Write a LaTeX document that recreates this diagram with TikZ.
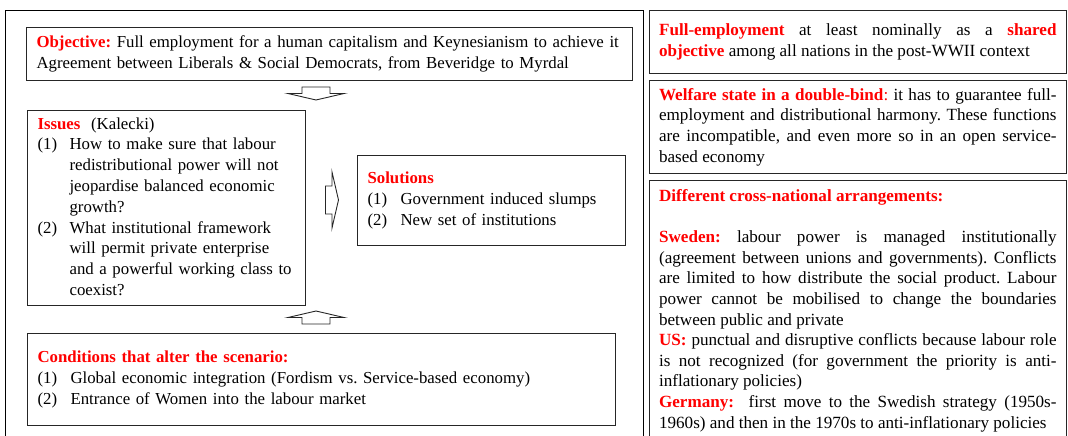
\documentclass[tikz,border=0pt]{standalone}
\usepackage{fontspec}
\setmainfont{Liberation Serif}
\setlength{\parindent}{0pt}
\frenchspacing
\newcommand{\redhd}[1]{\textcolor{red}{\textbf{#1}}}

\begin{document}
\begin{tikzpicture}[
        x=1pt,y=-1pt,
        box/.style={draw=black!85,line width=1.1pt,anchor=north west,inner xsep=10pt,inner ysep=4pt,
                    font=\fontsize{17.1}{20.6}\selectfont\frenchspacing},
        leftbox/.style={box,align=left,font=\fontsize{16.8}{20.8}\selectfont\frenchspacing},
        rightbox/.style={box,align=justify,text width=397.5pt,minimum width=417.5pt},
        blockarr/.pic={\draw[line width=0.9pt,black!85] (-6.5,-14) -- (0,-14) -- (0,-28) -- (6.5,0) -- (0,28) -- (0,14) -- (-6.5,14) -- cycle;}
    ]
        \useasboundingbox (0,0) rectangle (1068,436);
        \clip (0,0) rectangle (1068,436);

        % Outer frame of the left panel
        \draw (5,10) rectangle (643,450);

        % Left panel
        \node[leftbox,text width=586pt,minimum width=606pt,minimum height=53pt] (obj) at (26,27)
            {\mbox{\redhd{Objective:} Full employment for a human capitalism and Keynesianism to achieve it}\\
             Agreement between Liberals \& Social Democrats, from Beveridge to Myrdal};
        \node[leftbox,text width=258pt,minimum width=278pt,minimum height=192pt] (issues) at (27,110)
            {\begin{tabular}{@{}p{32pt}@{}l@{}}
             \multicolumn{2}{@{}l@{}}{\redhd{Issues}\hspace{5pt} (Kalecki)}\\
             (1) & How to make sure that labour\\
                 & redistributional power will not\\
                 & jeopardise balanced economic\\
                 & growth?\\
             (2) & What institutional framework\\
                 & will permit private enterprise\\
                 & and a powerful working class to\\
                 & coexist?
             \end{tabular}};
        \node[leftbox,text width=248pt,minimum width=268pt,minimum height=90pt] (sol) at (357,155)
            {\begin{tabular}{@{}p{33pt}@{}l@{}}
             \multicolumn{2}{@{}l@{}}{\redhd{Solutions}}\\
             (1) & Government induced slumps\\
             (2) & New set of institutions
             \end{tabular}};
        \node[leftbox,text width=568pt,minimum width=588pt,minimum height=92pt] (cond) at (27,333)
            {\begin{tabular}{@{}p{33pt}@{}l@{}}
             \multicolumn{2}{@{}l@{}}{\redhd{Conditions that alter the scenario:}}\\
             (1) & Global economic integration (Fordism vs. Service-based economy)\\
             (2) & Entrance of Women into the labour market
             \end{tabular}};

        % Block arrows between the boxes
        \pic[rotate=-90] (down) at (316,93.5) {blockarr};
        \pic (right) at (332,200) {blockarr};
        \pic[rotate=90] (up) at (316,317.5) {blockarr};

        % Right panel
        \node[rightbox,minimum height=63pt] (full) at (648.5,10)
            {\redhd{Full-employment} at least nominally as a \redhd{shared}\linebreak
             \redhd{objective} among all nations in the post-WWII context};
        \node[rightbox,minimum height=93pt] (welfare) at (648.5,80)
            {\redhd{Welfare state in a double-bind}\textcolor{red}{:} it has to guarantee full-\linebreak
             employment and distributional harmony. These functions\linebreak
             are incompatible, and even more so in an open service-\linebreak
             based economy};
        \node[rightbox,inner ysep=9pt] (cross) at (648.5,180)
            {\redhd{Different cross-national arrangements:}\par\vspace{20.6pt}
             \redhd{Sweden:} labour power is managed institutionally\linebreak
             (agreement between unions and governments). Conflicts\linebreak
             are limited to how distribute the social product. Labour\linebreak
             power cannot be mobilised to change the boundaries\linebreak
             between public and private\par
             \redhd{US:} punctual and disruptive conflicts because labour role\linebreak
             is not recognized (for government the priority is anti-\linebreak
             inflationary policies)\par
             \redhd{Germany:}\ \ first move to the Swedish strategy (1950s-\linebreak
             1960s) and then in the 1970s to anti-inflationary policies};
    \end{tikzpicture}
\end{document}
